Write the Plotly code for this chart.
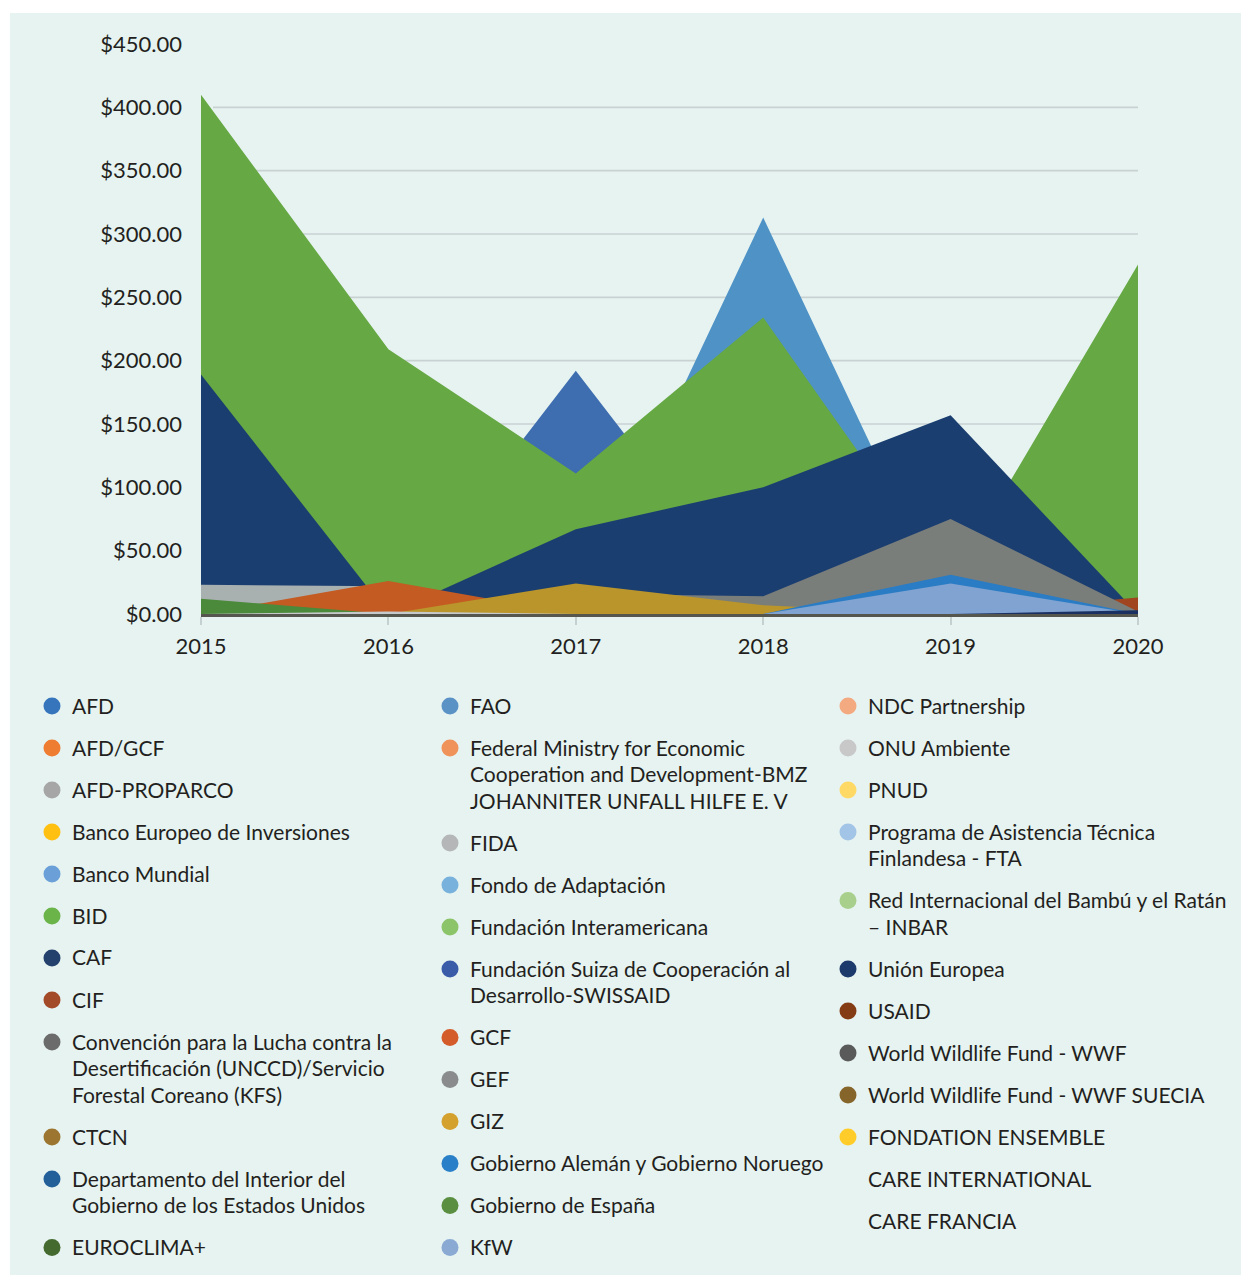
import plotly.graph_objects as go

# ---------------- data ----------------
years = [2015, 2016, 2017, 2018, 2019, 2020]

afd = [0, 0, 192, 0, 0, 0]
banco_mundial = [0, 0, 0, 313, 0, 0]
bid = [410, 209, 111, 234, 25, 276]
caf = [189, 0, 67, 100, 157, 0]
cif = [0, 0, 0, 0, 0, 13]
fida = [23, 22, 0, 0, 0, 0]
gcf = [0, 26, 0, 0, 0, 0]
gef = [0, 0, 16, 14, 75, 2]
giz = [0, 0, 24, 7, 0, 0]
gob_aleman = [0, 0, 0, 0, 31, 0]
gob_espana = [12, 0, 0, 0, 0, 0]
kfw = [0, 0, 0, 0, 24, 0]
onu_ambiente = [0, 2, 0, 0, 0, 0]
union_europea = [0, 0, 0, 0, 0, 3]

y_ticks = [0, 50, 100, 150, 200, 250, 300, 350, 400, 450]
y_tick_labels = ["$%.2f" % v for v in y_ticks]
x_tick_labels = [str(y) for y in years]

# series in drawing order (first = back)
series = [
    ("AFD", afd, "#3e6db0"),
    ("Banco Mundial", banco_mundial, "#4f92c6"),
    ("BID", bid, "#66a843"),
    ("CAF", caf, "#1b3e70"),
    ("CIF", cif, "#a0451f"),
    ("FIDA", fida, "#a9b0b0"),
    ("GCF", gcf, "#c45b23"),
    ("GEF", gef, "#7a7e7b"),
    ("GIZ", giz, "#b9952b"),
    ("Gobierno Alemán y Gobierno Noruego", gob_aleman, "#2a7cc4"),
    ("Gobierno de España", gob_espana, "#4a8a3a"),
    ("KfW", kfw, "#80a3d1"),
    ("ONU Ambiente", onu_ambiente, "#c6c9cc"),
    ("Unión Europea", union_europea, "#1a3060"),
]

# legend (3 columns)
legend_col1 = [
    (["AFD"], "#3675bb"),
    (["AFD/GCF"], "#ee7d31"),
    (["AFD-PROPARCO"], "#a6a6a6"),
    (["Banco Europeo de Inversiones"], "#ffc012"),
    (["Banco Mundial"], "#6a9fd8"),
    (["BID"], "#6ab44a"),
    (["CAF"], "#24416e"),
    (["CIF"], "#a34a28"),
    (["Convención para la Lucha contra la", "Desertificación (UNCCD)/Servicio", "Forestal Coreano (KFS)"], "#6b6b6b"),
    (["CTCN"], "#9c7630"),
    (["Departamento del Interior del", "Gobierno de los Estados Unidos"], "#23609a"),
    (["EUROCLIMA+"], "#446a30"),
]
legend_col2 = [
    (["FAO"], "#5a92c6"),
    (["Federal Ministry for Economic", "Cooperation and Development-BMZ", "JOHANNITER UNFALL HILFE E. V"], "#f0935a"),
    (["FIDA"], "#b5b6b8"),
    (["Fondo de Adaptación"], "#78b2dc"),
    (["Fundación Interamericana"], "#8cc46a"),
    (["Fundación Suiza de Cooperación al", "Desarrollo-SWISSAID"], "#3a5ba8"),
    (["GCF"], "#d45c2a"),
    (["GEF"], "#8a8b8d"),
    (["GIZ"], "#d4a02e"),
    (["Gobierno Alemán y Gobierno Noruego"], "#2a80c8"),
    (["Gobierno de España"], "#5a8f42"),
    (["KfW"], "#8aaad4"),
]
legend_col3 = [
    (["NDC Partnership"], "#f4aa80"),
    (["ONU Ambiente"], "#c8c8c8"),
    (["PNUD"], "#ffd966"),
    (["Programa de Asistencia Técnica", "Finlandesa - FTA"], "#a2c4e6"),
    (["Red Internacional del Bambú y el Ratán", "– INBAR"], "#a8d08c"),
    (["Unión Europea"], "#1c3a6b"),
    (["USAID"], "#843c14"),
    (["World Wildlife Fund - WWF"], "#5a5a5a"),
    (["World Wildlife Fund - WWF SUECIA"], "#86652a"),
    (["FONDATION ENSEMBLE"], "#ffcc2a"),
    (["CARE INTERNATIONAL"], None),
    (["CARE FRANCIA"], None),
]

# ---------------- geometry ----------------
W, H = 1241, 1275
L, R, T, B = 201, 1138, 44, 614


def px2x(px):
    return (px - L) / (R - L)


def py2y(py):
    return (B - py) / (B - T)


TEXT = "#231f20"
TICK_FONT = dict(family="Lato, sans-serif", size=22, color=TEXT)
LEG_FONT = dict(family="Lato, sans-serif", size=21, color=TEXT)

fig = go.Figure()
for name, vals, col in series:
    fig.add_trace(go.Scatter(
        x=years, y=vals, name=name, mode="none", fill="tozeroy",
        fillcolor=col, line=dict(width=0), hoverinfo="x+y+name",
    ))

shapes = []
annotations = []

# panel background
shapes.append(dict(type="rect", xref="paper", yref="paper",
                   x0=px2x(10), x1=px2x(W + 5), y0=py2y(H + 5), y1=py2y(13),
                   fillcolor="#e6f3f1", line=dict(width=0), layer="below"))
# gridlines
for v in y_ticks[1:-1]:
    shapes.append(dict(type="line", xref="paper", yref="y",
                       x0=px2x(213), x1=1, y0=v, y1=v,
                       line=dict(color="#c9d2d2", width=1.6), layer="below"))

# legend
col_dot_x = [52, 450, 848]
col_txt_x = [70, 468, 866]
START, STEP, WRAP = 705, 42, 26.5
for ci, col_items in enumerate([legend_col1, legend_col2, legend_col3]):
    yc = START
    for lines, colr in col_items:
        if colr is not None:
            shapes.append(dict(type="circle", xref="paper", yref="paper",
                               xsizemode="pixel", ysizemode="pixel",
                               xanchor=px2x(col_dot_x[ci]), yanchor=py2y(yc + 1),
                               x0=-8.5, x1=8.5, y0=-8.5, y1=8.5,
                               fillcolor=colr, line=dict(width=0)))
        for li, ln in enumerate(lines):
            annotations.append(dict(xref="paper", yref="paper",
                                    x=px2x(col_txt_x[ci]), y=py2y(yc + li * WRAP),
                                    xanchor="left", yanchor="middle",
                                    text=ln, showarrow=False, font=LEG_FONT))
        yc += (len(lines) - 1) * WRAP + STEP

fig.update_layout(
    width=W, height=H,
    margin=dict(l=L, r=W - R, t=T, b=H - B, pad=0),
    paper_bgcolor="white", plot_bgcolor="rgba(0,0,0,0)",
    showlegend=False,
    shapes=shapes, annotations=annotations,
    xaxis=dict(range=[2015, 2020], tickvals=years, ticktext=x_tick_labels,
               tickfont=TICK_FONT, showgrid=False, zeroline=False,
               showline=True, linecolor="#55574f", linewidth=2.5,
               ticks="outside", ticklen=8, tickwidth=2, tickcolor="#c5d0d0",
               ticklabelstandoff=3, fixedrange=True),
    yaxis=dict(range=[0, 450], tickvals=y_ticks, ticktext=y_tick_labels,
               tickfont=TICK_FONT, showgrid=False, zeroline=False,
               showline=False, ticks="", ticklabelstandoff=18, fixedrange=True),
)

fig.write_html("out.html", config={"displayModeBar": False},
               post_script="document.body.style.margin='0';document.body.style.padding='0';")
